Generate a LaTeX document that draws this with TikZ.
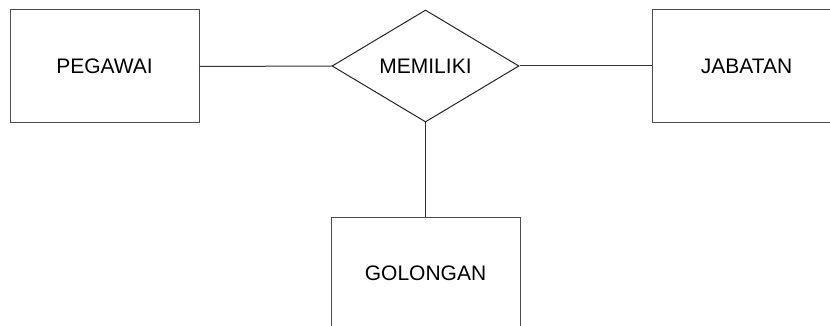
\documentclass[tikz,border=0pt]{standalone}
\usepackage{fontspec}
\setmainfont{Liberation Sans}
\usetikzlibrary{shapes.geometric}
\begin{document}
\begin{tikzpicture}[x=1pt,y=-1pt,
  entity/.style={draw=black!70,line width=1pt,rectangle,minimum width=189pt,minimum height=113pt,inner sep=0pt,font=\fontsize{21}{24}\selectfont},
  relation/.style={draw=black!85,line width=1pt,diamond,aspect=1.67,minimum width=187pt,minimum height=112pt,inner sep=0pt,font=\fontsize{21}{24}\selectfont},
  link/.style={draw=black!80,line width=1pt}]
  \useasboundingbox (0,0) rectangle (830,326);
  \clip (0,0) rectangle (830,326);
  \fill[white] (0,0) rectangle (830,326);
  % entities and relationship
  \node[entity] (pegawai) at (104.5,66.5) {PEGAWAI};
  \node[relation] (memiliki) at (425.5,66) {MEMILIKI};
  \node[entity] (jabatan) at (746.5,66) {JABATAN};
  \node[entity] (golongan) at (425.5,273.5) {GOLONGAN};
  % connectors
  \draw[link] (pegawai.east) -- (memiliki.west);
  \draw[link] (memiliki.east) -- (jabatan.west);
  \draw[link] (memiliki.south) -- (golongan.north);
\end{tikzpicture}
\end{document}
